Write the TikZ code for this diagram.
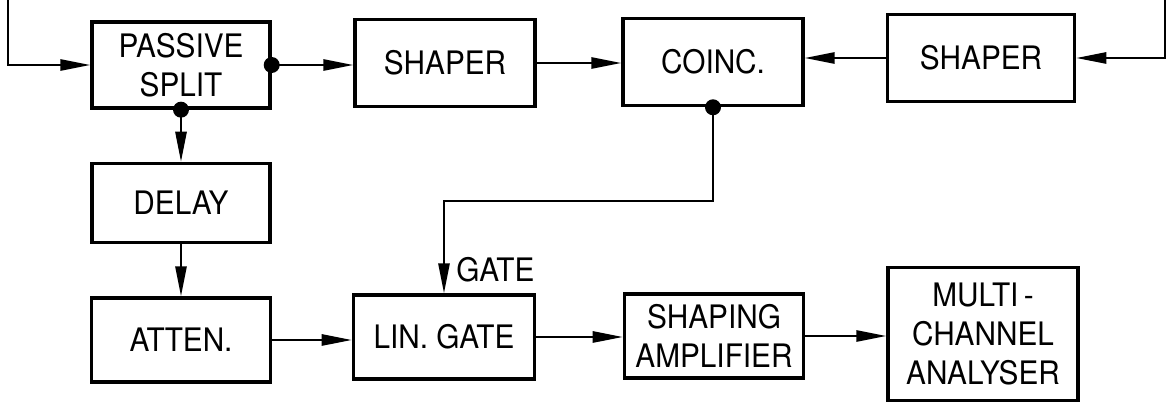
\documentclass[tikz,border=0pt]{standalone}
\usepackage{fontspec}
\setmainfont{TeX Gyre Heros}[FakeStretch=0.92]
\usetikzlibrary{arrows.meta}
\begin{document}
\begin{tikzpicture}[x=0.025cm, y=-0.025cm,
    box/.style={draw, line width=2.4pt, align=center, inner sep=0pt,
      font=\fontsize{23}{27.5}\selectfont},
    lbl/.style={inner sep=0pt, font=\fontsize{23}{27.5}\selectfont},
    flow/.style={line width=1.5pt, -{Triangle[length=0.75cm, width=0.28cm]}},
    dot/.style={circle, fill, inner sep=0pt, minimum size=0.4cm}]
  \useasboundingbox (0,0) rectangle (1166,405);

  % top row
  \node[box, minimum width=4.45cm, minimum height=2.15cm] (split) at (181,65) {PASSIVE\\SPLIT};
  \node[box, minimum width=4.5cm, minimum height=2.18cm] (shaperA) at (445,63) {SHAPER};
  \node[box, minimum width=4.5cm, minimum height=2.18cm] (coinc) at (713,62) {COINC.};
  \node[box, minimum width=4.68cm, minimum height=2.18cm] (shaperB) at (981,58) {SHAPER};

  % left column and bottom row
  \node[box, minimum width=4.45cm, minimum height=1.98cm] (delay) at (181,203) {DELAY};
  \node[box, minimum width=4.48cm, minimum height=2.1cm] (atten) at (181,340) {ATTEN.};
  \node[box, minimum width=4.53cm, minimum height=2.1cm] (lingate) at (444,337) {LIN. GATE};
  \node[box, minimum width=4.48cm, minimum height=2.1cm] (shamp) at (714,336) {SHAPING\\AMPLIFIER};
  \node[box, minimum width=4.75cm, minimum height=3.33cm] (mca) at (983,334) {MULTI\,-\\CHANNEL\\ANALYSER};

  \coordinate (inL) at (8,0);
  \coordinate (inR) at (1165,0);
  \coordinate (bend) at (713,201);

  % connections
  \draw[flow] (inL) |- (split.west);
  \draw[flow] (split.east) -- (split.east -| shaperA.west);
  \draw[flow] (shaperA.east) -- (shaperA.east -| coinc.west);
  \draw[flow] (inR) |- (shaperB.east);
  \draw[flow] (shaperB.west) -- (shaperB.west -| coinc.east);
  \draw[flow] (split.south) -- (delay.north);
  \draw[flow] (delay.south) -- (atten.north);
  \draw[flow] (atten.east) -- (atten.east -| lingate.west);
  \draw[flow] (lingate.east) -- (lingate.east -| shamp.west);
  \draw[flow] (shamp.east) -- (shamp.east -| mca.west);
  \draw[flow] (coinc.south) |- (bend) -| (lingate.north);

  \node[dot] (dA) at (split.east) {};
  \node[dot] (dB) at (split.south) {};
  \node[dot] (dC) at (coinc.south) {};
  \node[lbl, anchor=base west] (gatelbl) at (456,282) {GATE};
\end{tikzpicture}
\end{document}
